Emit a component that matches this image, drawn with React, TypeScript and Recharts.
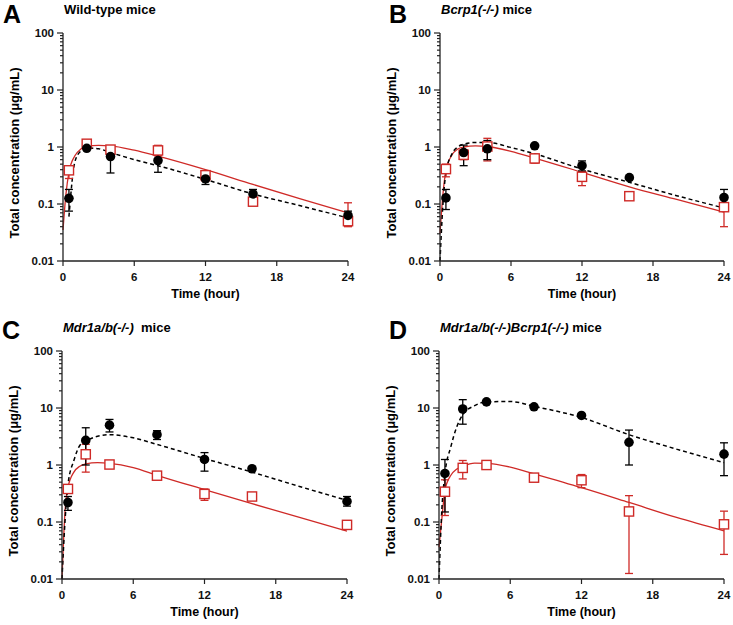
import React from 'react';
import { ComposedChart, Line, Scatter, ErrorBar, XAxis, YAxis } from 'recharts';

const RED = '#cf2a27';
const AXIS = '#222';
const FONT = '"Liberation Sans", Arial, sans-serif';

// sampling times (h)
const sampleTimes = [0.5, 2, 4, 8, 12, 16, 24];
const fitTimes = [0, 0.25, 0.5, 1, 1.5, 2, 3, 4, 6, 8, 12, 16, 20, 24];

// A - wild-type
const wtBlackMean = [0.126, 0.95, 0.68, 0.58, 0.275, 0.15, 0.063];
const wtBlackLo = [0.075, 0.95, 0.35, 0.36, 0.22, 0.12, 0.05];
const wtBlackHi = [0.18, 0.95, 0.95, 0.78, 0.33, 0.18, 0.075];
const wtRedMean = [0.39, 1.14, 0.9, 0.87, 0.32, 0.11, 0.05];
const wtRedLo = [0.28, 1.14, 0.75, 0.7, 0.25, 0.11, 0.04];
const wtRedHi = [0.45, 1.14, 1.05, 1.07, 0.38, 0.11, 0.105];
const wtBlackFit = [null, null, 0.06, 0.55, 0.85, 0.96, 0.93, 0.8, 0.6, 0.47, 0.27, 0.15, 0.093, 0.057];
const wtRedFit = [0.035, 0.15, 0.36, 0.7, 0.92, 1.02, 1.07, 1.05, 0.88, 0.69, 0.4, 0.22, 0.123, 0.07];

// B - Bcrp1(-/-)
const bcBlackMean = [0.128, 0.8, 0.93, 1.05, 0.47, 0.29, 0.13];
const bcBlackLo = [0.08, 0.47, 0.6, 1.05, 0.38, 0.29, 0.09];
const bcBlackHi = [0.18, 1.08, 1.3, 1.05, 0.57, 0.29, 0.18];
const bcRedMean = [0.41, 0.73, 1.02, 0.63, 0.3, 0.137, 0.088];
const bcRedLo = [0.3, 0.6, 0.57, 0.52, 0.21, 0.137, 0.04];
const bcRedHi = [0.5, 0.9, 1.42, 0.75, 0.37, 0.137, 0.1];
const bcBlackFit = [0.01, 0.1, 0.35, 0.75, 1.0, 1.12, 1.2, 1.2, 0.98, 0.76, 0.41, 0.24, 0.14, 0.085];
const bcRedFit = [0.03, 0.15, 0.38, 0.72, 0.92, 1.0, 1.05, 1.02, 0.84, 0.64, 0.36, 0.2, 0.12, 0.072];

// C - Mdr1a/b(-/-)
const mdBlackMean = [0.22, 2.7, 5.0, 3.4, 1.25, 0.86, 0.23];
const mdBlackLo = [0.16, 1.0, 3.8, 2.8, 0.78, 0.86, 0.19];
const mdBlackHi = [0.28, 4.5, 6.3, 4.0, 1.65, 0.86, 0.28];
const mdRedMean = [0.38, 1.54, 1.02, 0.65, 0.31, 0.28, 0.089];
const mdRedLo = [0.38, 0.75, 1.02, 0.58, 0.24, 0.28, 0.089];
const mdRedHi = [0.38, 2.3, 1.02, 0.72, 0.38, 0.28, 0.089];
const mdBlackFit = [0.01, 0.1, 0.45, 1.2, 2.2, 2.6, 3.2, 3.4, 3.0, 2.3, 1.3, 0.75, 0.42, 0.24];
const mdRedFit = [0.01, 0.15, 0.4, 0.75, 0.95, 1.05, 1.1, 1.07, 0.9, 0.66, 0.37, 0.21, 0.12, 0.069];

// D - Mdr1a/b(-/-)Bcrp1(-/-)
const tkBlackMean = [0.71, 9.6, 12.8, 10.5, 7.4, 2.5, 1.55];
const tkBlackLo = [0.15, 5.2, 12.8, 10.5, 7.4, 1.0, 0.65];
const tkBlackHi = [1.25, 14, 12.8, 10.5, 7.4, 4.1, 2.45];
const tkRedMean = [0.34, 0.89, 1.0, 0.6, 0.54, 0.153, 0.091];
const tkRedLo = [0.13, 0.57, 1.0, 0.6, 0.4, 0.0125, 0.027];
const tkRedHi = [0.55, 1.2, 1.0, 0.6, 0.68, 0.29, 0.155];
const tkBlackFit = [0.01, 0.18, 0.7, 2.1, 4.7, 7.6, 11, 12.8, 13.0, 10.7, 6.8, 3.4, 1.9, 1.1];
const tkRedFit = [0.036, 0.12, 0.36, 0.66, 0.85, 0.95, 1.08, 1.07, 0.92, 0.7, 0.4, 0.22, 0.12, 0.07];

const xTicks = [0, 6, 12, 18, 24];
const majorY = [0.01, 0.1, 1, 10, 100];
const yTicks: number[] = [];
majorY.slice(0, 4).forEach(d => {
  for (let k = 1; k < 10; k++) yTicks.push(+(d * k).toPrecision(3));
});
yTicks.push(100);

const points = (mean: number[], lo: number[], hi: number[]) =>
  sampleTimes.map((t, i) => ({ t, v: mean[i], err: [mean[i] - lo[i], hi[i] - mean[i]] }));
const fit = (vals: (number | null)[]) => fitTimes.map((t, i) => ({ t, v: vals[i] }));

const panels = [
  {
    letter: 'A', ox: 0, oy: 0, w: 366, h: 312, L: 63, T: 33, R: 348, B: 261, lx: 3, ly: 23,
    title: [{ text: 'Wild-type mice', italic: false }],
    black: points(wtBlackMean, wtBlackLo, wtBlackHi), red: points(wtRedMean, wtRedLo, wtRedHi),
    blackFit: fit(wtBlackFit), redFit: fit(wtRedFit),
  },
  {
    letter: 'B', ox: 366, oy: 0, w: 367, h: 312, L: 74, T: 33, R: 358, B: 261, lx: 23, ly: 23,
    title: [{ text: 'Bcrp1(-/-)', italic: true }, { text: ' mice', italic: false }],
    black: points(bcBlackMean, bcBlackLo, bcBlackHi), red: points(bcRedMean, bcRedLo, bcRedHi),
    blackFit: fit(bcBlackFit), redFit: fit(bcRedFit),
  },
  {
    letter: 'C', ox: 0, oy: 312, w: 366, h: 313, L: 62, T: 39, R: 347, B: 267, lx: 2, ly: 27,
    title: [{ text: 'Mdr1a/b(-/-)', italic: true }, { text: '\u00a0\u00a0mice', italic: false }],
    black: points(mdBlackMean, mdBlackLo, mdBlackHi), red: points(mdRedMean, mdRedLo, mdRedHi),
    blackFit: fit(mdBlackFit), redFit: fit(mdRedFit),
  },
  {
    letter: 'D', ox: 366, oy: 312, w: 367, h: 313, L: 73, T: 39, R: 358, B: 267, lx: 23, ly: 27,
    title: [{ text: 'Mdr1a/b(-/-)Bcrp1(-/-)', italic: true }, { text: ' mice', italic: false }],
    black: points(tkBlackMean, tkBlackLo, tkBlackHi), red: points(tkRedMean, tkRedLo, tkRedHi),
    blackFit: fit(tkBlackFit), redFit: fit(tkRedFit),
  },
];

const YTick = (props: any) => {
  const { x, y, payload } = props;
  const axisX = x + 9;
  const major = majorY.includes(payload.value);
  return (
    <g>
      <line x1={axisX} x2={axisX - (major ? 6 : 3)} y1={y} y2={y} stroke={AXIS} strokeWidth={1.2} />
      {major && (
        <text x={x} y={y} dy={4} textAnchor="end" fontFamily={FONT} fontWeight="bold" fontSize={11.5} fill="#111">
          {payload.value}
        </text>
      )}
    </g>
  );
};

const circleShape = (p: any) => <circle cx={p.cx} cy={p.cy} r={4.8} fill="#000" />;
const squareShape = (p: any) => (
  <rect x={p.cx - 4.6} y={p.cy - 4.6} width={9.2} height={9.2} fill="#fff" stroke={RED} strokeWidth={1.4} />
);

function Panel({ p }: { p: (typeof panels)[number] }) {
  return (
    <div style={{ position: 'absolute', left: p.ox, top: p.oy }}>
      <ComposedChart
        width={p.w}
        height={p.h}
        margin={{ top: p.T, right: p.w - p.R, bottom: p.h - p.B - 40, left: 0 }}
      >
        <XAxis
          dataKey="t"
          type="number"
          domain={[0, 24]}
          ticks={xTicks}
          interval={0}
          height={40}
          tickSize={5}
          tickMargin={7}
          axisLine={{ stroke: AXIS, strokeWidth: 1.3 }}
          tickLine={{ stroke: AXIS, strokeWidth: 1.2 }}
          tick={{ fill: '#111', fontSize: 11.5, fontWeight: 'bold', fontFamily: FONT }}
        />
        <YAxis
          dataKey="v"
          scale="log"
          type="number"
          domain={[0.01, 100]}
          ticks={yTicks}
          interval={0}
          width={p.L}
          tickSize={6}
          tickMargin={3}
          tickLine={false}
          axisLine={{ stroke: AXIS, strokeWidth: 1.3 }}
          tick={<YTick />}
        />
        <Line
          data={p.redFit}
          dataKey="v"
          type="monotone"
          stroke={RED}
          strokeWidth={1.3}
          dot={false}
          activeDot={false}
          isAnimationActive={false}
        />
        <Line
          data={p.blackFit}
          dataKey="v"
          type="monotone"
          stroke="#000"
          strokeWidth={1.5}
          strokeDasharray="4 3"
          dot={false}
          activeDot={false}
          isAnimationActive={false}
        />
        <Scatter data={p.red} dataKey="v" shape={squareShape} isAnimationActive={false}>
          <ErrorBar dataKey="err" direction="y" width={4} stroke={RED} strokeWidth={1.3} />
        </Scatter>
        <Scatter data={p.black} dataKey="v" shape={circleShape} isAnimationActive={false}>
          <ErrorBar dataKey="err" direction="y" width={4} stroke="#000" strokeWidth={1.3} />
        </Scatter>
      </ComposedChart>
    </div>
  );
}

export default function App() {
  return (
    <div style={{ position: 'absolute', left: 0, top: 0, width: 733, height: 625, background: '#fff' }}>
      {panels.map(p => (
        <Panel key={p.letter} p={p} />
      ))}
      <svg width={733} height={625} style={{ position: 'absolute', left: 0, top: 0, pointerEvents: 'none' }}>
        {panels.map(p => {
          const cy = p.oy + (p.T + p.B) / 2 + 6;
          const ax = p.ox + p.L - 44;
          return (
            <g key={p.letter} fontFamily={FONT} fontWeight="bold" fill="#000">
              <text x={p.ox + p.lx} y={p.oy + p.ly} fontSize={25}>{p.letter}</text>
              <text x={p.ox + p.L + 1} y={p.oy + p.T - 19} fontSize={13}>
                {p.title.map((s, i) => (
                  <tspan key={i} fontStyle={s.italic ? 'italic' : 'normal'}>{s.text}</tspan>
                ))}
              </text>
              <text
                x={ax}
                y={cy}
                fontSize={13}
                textAnchor="middle"
                transform={`rotate(-90 ${ax} ${cy})`}
              >
                Total concentration (μg/mL)
              </text>
              <text x={p.ox + (p.L + p.R) / 2} y={p.oy + p.B + 37} fontSize={12.5} textAnchor="middle">
                Time (hour)
              </text>
            </g>
          );
        })}
      </svg>
    </div>
  );
}
